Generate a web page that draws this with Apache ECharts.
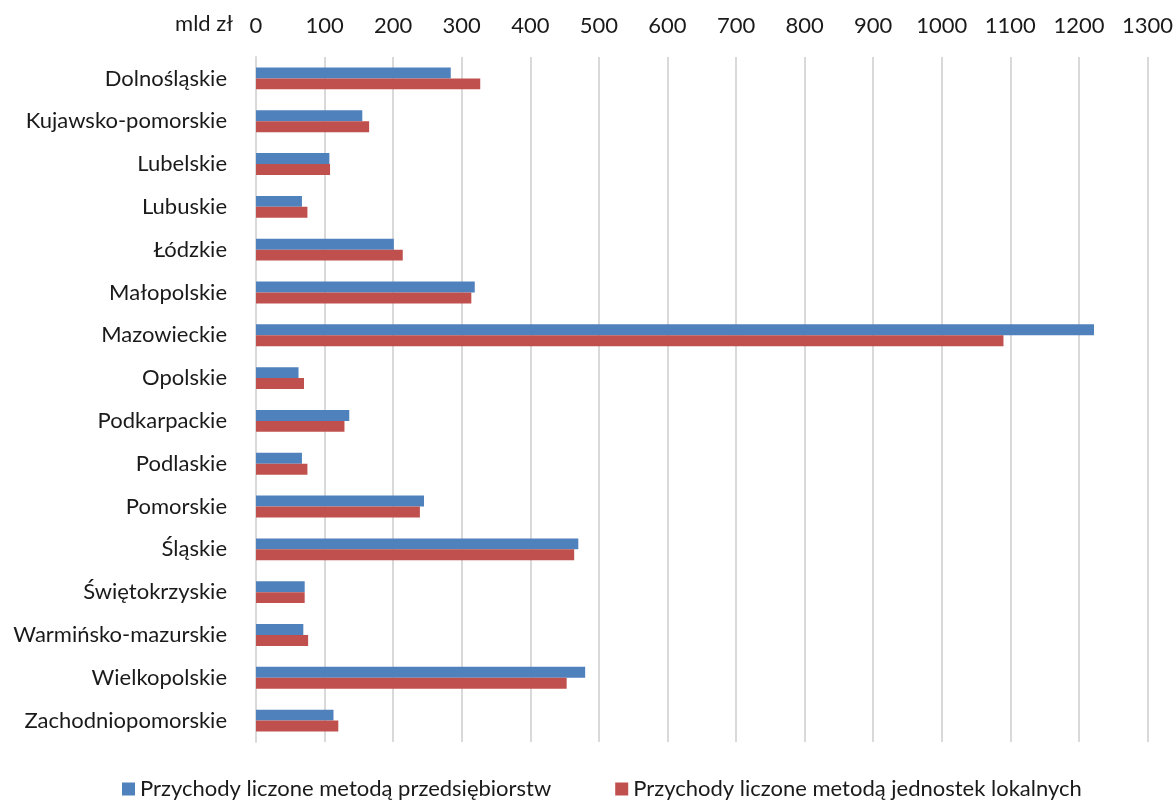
<!DOCTYPE html>
<html>
<head>
<meta charset="utf-8">
<script src="https://cdn.jsdelivr.net/npm/echarts@6/dist/echarts.min.js"></script>
<style>
html,body{margin:0;padding:0;background:#fff;}
#chart{width:1176px;height:805px;}
</style>
</head>
<body>
<div id="chart"></div>
<script>
const categories = ["Dolnośląskie","Kujawsko-pomorskie","Lubelskie","Lubuskie","Łódzkie","Małopolskie","Mazowieckie","Opolskie","Podkarpackie","Podlaskie","Pomorskie","Śląskie","Świętokrzyskie","Warmińsko-mazurskie","Wielkopolskie","Zachodniopomorskie"];
const enterpriseMethod = [284, 155, 107, 67, 201, 319, 1222, 62, 136, 67, 245, 470, 71, 69, 480, 113];
const localUnitMethod = [327, 165, 108, 75, 214, 314, 1090, 70, 129, 75, 239, 464, 71, 76, 453, 120];
const seriesNames = ["Przychody liczone metodą przedsiębiorstw", "Przychody liczone metodą jednostek lokalnych"];
const unitLabel = "mld zł";

const FONT = "Lato";
const chart = echarts.init(document.getElementById('chart'), null, {renderer:'canvas'});
chart.setOption({
  animation:false,
  backgroundColor:'#ffffff',
  color:['#4F81BD','#C0504D'],
  grid:{left:256, right:27, top:57, bottom:63, containLabel:false},
  graphic:[{
    type:'text', right:1176-233, top:13,
    style:{text:unitLabel, font:'22px ' + FONT, fill:'#1a1a1a', textAlign:'right'}
  }],
  legend:{
    bottom:0, left:117, itemGap:64, itemWidth:13, itemHeight:13,
    icon:'rect',
    textStyle:{fontFamily:FONT, fontSize:22, color:'#1a1a1a'},
    data:seriesNames
  },
  xAxis:{
    type:'value', position:'top', min:0, max:1300, interval:100,
    axisLine:{show:false}, axisTick:{show:false},
    axisLabel:{fontFamily:FONT, fontSize:22, color:'#1a1a1a', margin:20,
      formatter:function(v){return String(v);}},
    splitLine:{lineStyle:{color:'#D9D9D9', width:2}}
  },
  yAxis:{
    type:'category', inverse:true, data:categories,
    axisLine:{show:true, lineStyle:{color:'#D9D9D9', width:2}},
    axisTick:{show:false},
    axisLabel:{fontFamily:FONT, fontSize:22, color:'#1a1a1a', margin:29}
  },
  series:[
    {name:seriesNames[0], type:'bar', data:enterpriseMethod, barGap:'0%', barCategoryGap:'49%',
     itemStyle:{color:'#4F81BD'}},
    {name:seriesNames[1], type:'bar', data:localUnitMethod, barGap:'0%', barCategoryGap:'49%',
     itemStyle:{color:'#C0504D'}}
  ]
});
</script>
</body>
</html>
